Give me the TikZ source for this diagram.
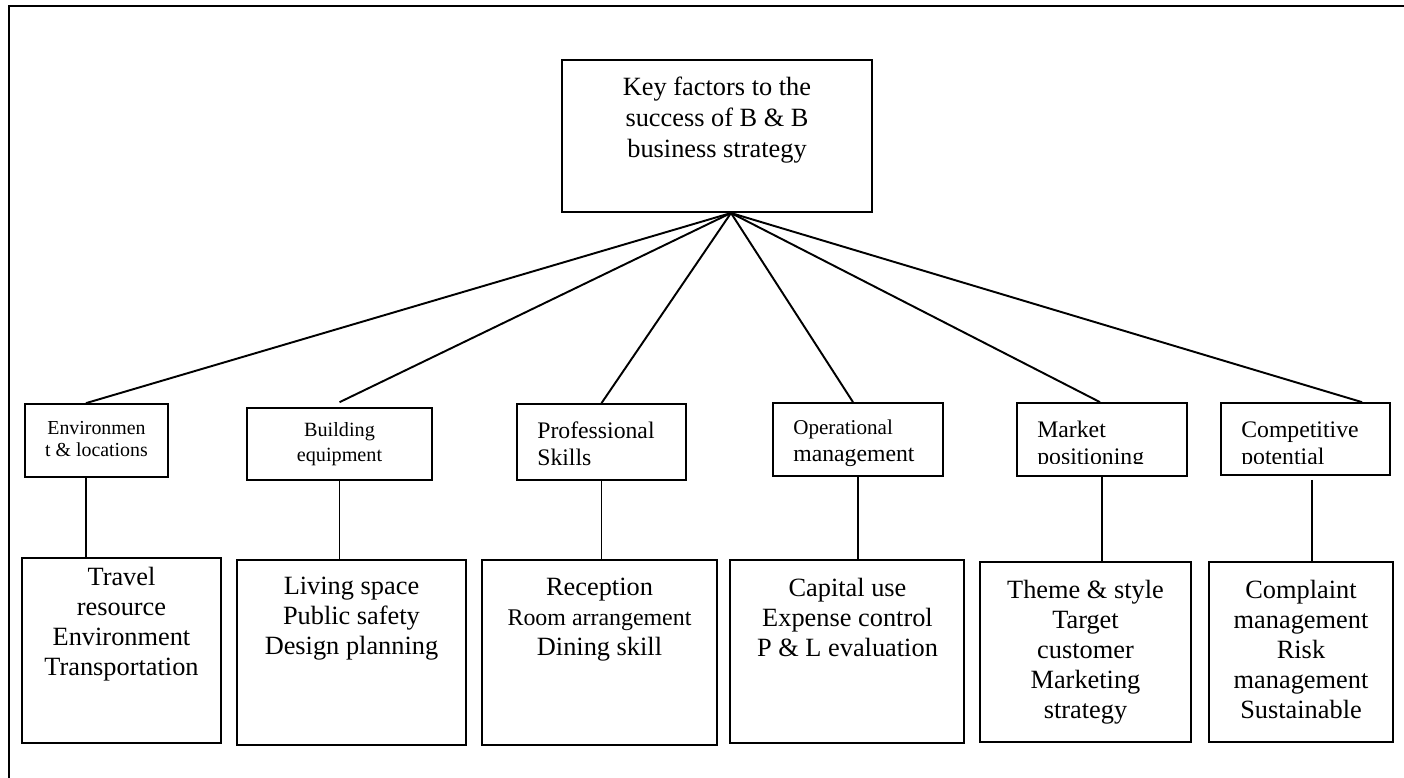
\documentclass[tikz,border=0pt]{standalone}
\usepackage{fontspec}
\setmainfont{Liberation Serif}
\usepackage{tikz}

\begin{document}
\begin{tikzpicture}[x=0.02cm, y=-0.02cm,
	box/.style={draw, line width=1pt, inner sep=0pt},
	link/.style={line width=1.1pt},
	bigtext/.style={align=center, inner sep=0pt, anchor=north, font=\fontsize{15}{17}\selectfont},
	smalltext/.style={align=left, inner sep=0pt, anchor=north west, font=\fontsize{13.5}{15.4}\selectfont}]
	\useasboundingbox (0,0) rectangle (1404,778);
	\draw [line width=1.2pt] (1404,6) -- (9,6) -- (9,778);
	% top box
	\node[box, minimum width=6.2cm, minimum height=3.04cm] (key) at (717,136) {};
	\node[bigtext, font=\fontsize{15}{17.6}\selectfont] (keytext) at (717,77) {Key factors to the\\success of B \& B\\business strategy};
	\coordinate (apex) at (731,213);
	% factor boxes
	\node[box, minimum width=2.86cm, minimum height=1.46cm] (env) at (96.5,440.5) {};
	\node[smalltext, align=center, anchor=north, font=\fontsize{11.3}{12.6}\selectfont] (envtext) at (96.5,420.5) {Environmen\\t \& locations};
	\node[box, minimum width=3.7cm, minimum height=1.44cm] (build) at (339.5,444) {};
	\node[smalltext, align=center, anchor=north, font=\fontsize{11.5}{14.2}\selectfont] (buildtext) at (339.5,422) {Building\\equipment};
	\node[box, minimum width=3.38cm, minimum height=1.52cm] (prof) at (601.5,442) {};
	\node[smalltext] (proftext) at (537,421) {Professional\\Skills};
	\node[box, minimum width=3.4cm, minimum height=1.46cm] (oper) at (858,439.5) {};
	\node[smalltext] (opertext) at (793,419.5) {{\fontsize{12}{15.4}\selectfont Operational}\\management};
	\node[box, minimum width=3.4cm, minimum height=1.46cm] (market) at (1102,439.5) {};
	\begin{scope}
		\clip (1017,403) rectangle (1187,463);
		\node[smalltext] (markettext) at (1037,421) {Market\\positioning};
	\end{scope}
	\node[box, minimum width=3.38cm, minimum height=1.44cm] (comp) at (1305.5,439) {};
	\begin{scope}
		\clip (1221,403) rectangle (1390,463);
		\node[smalltext] (comptext) at (1241,421) {Competitive\\potential};
	\end{scope}
	% detail boxes
	\node[box, minimum width=3.98cm, minimum height=3.7cm] (res1) at (121.5,650.5) {};
	\node[bigtext] (res1text) at (121.5,567) {Travel\\resource\\Environment\\Transportation};
	\node[box, minimum width=4.58cm, minimum height=3.7cm] (res2) at (351.5,652.5) {};
	\node[bigtext] (res2text) at (351.5,577) {Living space\\Public safety\\Design planning};
	\node[box, minimum width=4.7cm, minimum height=3.7cm] (res3) at (599.5,652.5) {};
	\node[bigtext] (res3text) at (599.5,578) {Reception\\{\fontsize{13.6}{17}\selectfont Room arrangement}\\Dining skill};
	\node[box, minimum width=4.68cm, minimum height=3.66cm] (res4) at (847,651.5) {};
	\node[bigtext] (res4text) at (847.5,578) {Capital use\\Expense control\\P \& L evaluation};
	\node[box, minimum width=4.22cm, minimum height=3.6cm] (res5) at (1085.5,652) {};
	\node[bigtext] (res5text) at (1085.5,580) {Theme \& style\\Target\\customer\\Marketing\\strategy};
	\node[box, minimum width=3.68cm, minimum height=3.6cm] (res6) at (1301,652) {};
	\node[bigtext] (res6text) at (1301,580) {Complaint\\management\\Risk\\management\\Sustainable};
	% fan out from the top box
	\draw[link] (apex) -- ([xshift=-0.21cm]env.north);
	\draw[link] (apex) -- ([yshift=2.8pt]build.north);
	\draw[link] (apex) -- (prof.north);
	\draw[link] (apex) -- ([xshift=-0.1cm]oper.north);
	\draw[link] (apex) -- ([xshift=-0.04cm]market.north);
	\draw[link] (apex) -- ([xshift=1.13cm]comp.north);
	% down to the details
	\draw[link] ([xshift=-0.21cm]env.south) -- ([xshift=-0.21cm]env.south |- res1.north);
	\draw[link] (build.south) -- (build.south |- res2.north);
	\draw[link] (prof.south) -- (prof.south |- res3.north);
	\draw[link] (oper.south) -- (oper.south |- res4.north);
	\draw[link] (market.south) -- (market.south |- res5.north);
	\draw[link] ([xshift=0.13cm, yshift=-2.3pt]comp.south) -- ([xshift=0.13cm]comp.south |- res6.north);
\end{tikzpicture}
\end{document}
